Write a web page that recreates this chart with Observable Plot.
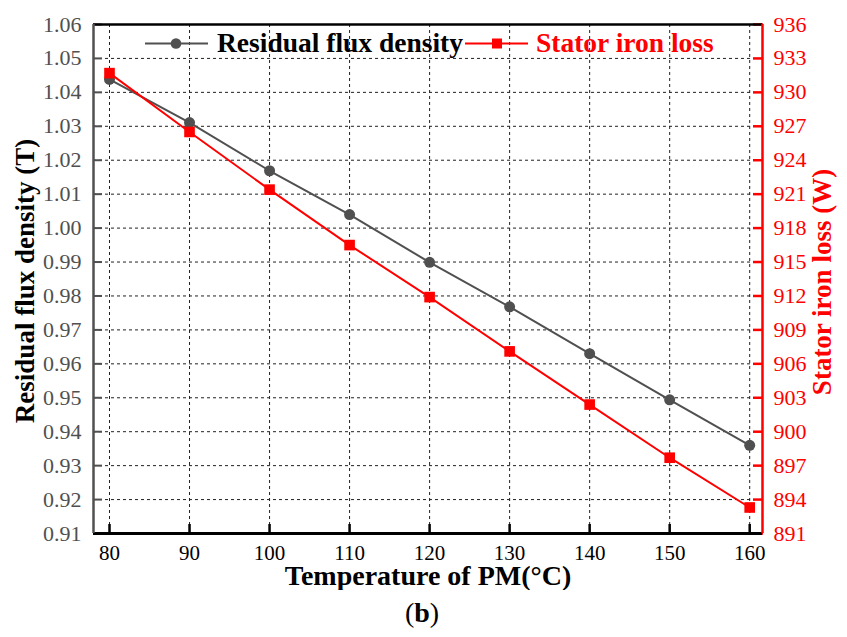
<!DOCTYPE html>
<html>
<head>
<meta charset="utf-8">
<script src="https://cdn.jsdelivr.net/npm/d3@7"></script>
<script src="https://cdn.jsdelivr.net/npm/@observablehq/plot@0.6"></script>
<style>
  html, body { margin: 0; padding: 0; background: #fff; }
  #wrap { position: relative; width: 847px; height: 637px; font-family: "Liberation Serif", "Times New Roman", serif; }
  #overlay { position: absolute; left: 0; top: 0; pointer-events: none; font-family: "Liberation Serif", "Times New Roman", serif; }
</style>
</head>
<body>
<div id="wrap">
  <div id="chart"></div>
  <svg id="overlay" width="847" height="637">
    <line x1="145" x2="208" y1="43.5" y2="43.5" stroke="#505050" stroke-width="2"></line>
    <circle cx="176" cy="43.5" r="5.3" fill="#505050"></circle>
    <text x="217" y="52" font-size="27.5" font-weight="bold" fill="#000">Residual flux density</text>
    <line x1="465" x2="528" y1="43.5" y2="43.5" stroke="#ff0000" stroke-width="2"></line>
    <rect x="492" y="38.5" width="10" height="10" fill="#ff0000"></rect>
    <text x="536" y="52" font-size="27.5" font-weight="bold" fill="#ff0000">Stator iron loss</text>
    <text x="422" y="622" font-size="28" text-anchor="middle" fill="#000">(<tspan font-weight="bold">b</tspan>)</text>
  </svg>
</div>
<script>
const temps = [80, 90, 100, 110, 120, 130, 140, 150, 160];
const flux = [1.0438, 1.0311, 1.0169, 1.0040, 0.9899, 0.9768, 0.9630, 0.9494, 0.9360];
const ironLoss = [931.7, 926.5, 921.4, 916.5, 911.9, 907.1, 902.4, 897.7, 893.3];
const fluxTicks = [0.91, 0.92, 0.93, 0.94, 0.95, 0.96, 0.97, 0.98, 0.99, 1.00, 1.01, 1.02, 1.03, 1.04, 1.05, 1.06];
const lossTicks = [891, 894, 897, 900, 903, 906, 909, 912, 915, 918, 921, 924, 927, 930, 933, 936];
const tempTicks = [80, 90, 100, 110, 120, 130, 140, 150, 160];

const xDomain = [78, 161.6];
const yDomain = [0.91, 1.06];
const lossDomain = [891, 936];
const toLeft = v => yDomain[0] + (v - lossDomain[0]) / (lossDomain[1] - lossDomain[0]) * (yDomain[1] - yDomain[0]);
const fromLeft = y => lossDomain[0] + (y - yDomain[0]) / (yDomain[1] - yDomain[0]) * (lossDomain[1] - lossDomain[0]);

const fluxData = temps.map((t, i) => ({t, v: flux[i]}));
const lossData = temps.map((t, i) => ({t, v: toLeft(ironLoss[i])}));
const rightTicks = lossTicks.map(toLeft);

const gray = "#505050";
const red = "#ff0000";
const serif = "'Liberation Serif', 'Times New Roman', serif";

const chart = Plot.plot({
  width: 847,
  height: 590,
  marginLeft: 93,
  marginRight: 85,
  marginTop: 24,
  marginBottom: 57,
  style: {background: "#fff", fontFamily: serif},
  x: {domain: xDomain},
  y: {domain: yDomain},
  marks: [
    Plot.gridX(tempTicks, {stroke: "#222", strokeOpacity: 1, strokeDasharray: "3,3", strokeWidth: 1}),
    Plot.gridY(fluxTicks, {stroke: "#222", strokeOpacity: 1, strokeDasharray: "3,3", strokeWidth: 1}),
    Plot.axisY(fluxTicks, {anchor: "left", tickSize: 0, tickPadding: 12, tickFormat: d3.format(".2f"), fontSize: 22, fill: gray, label: null}),
    Plot.axisY(fluxTicks, {anchor: "left", tickSize: 9, dx: 9, text: null, stroke: gray, strokeWidth: 2, label: null}),
    Plot.axisX(tempTicks, {anchor: "bottom", tickSize: 0, tickPadding: 12, fontSize: 21, fill: "#000", label: null}),
    Plot.axisX(tempTicks, {anchor: "bottom", tickSize: 9, dy: -9, text: null, stroke: "#000", strokeWidth: 2.5, label: null}),
    Plot.axisY(rightTicks, {anchor: "right", tickSize: 0, tickPadding: 11, tickFormat: d => String(Math.round(fromLeft(d))), fontSize: 22, fill: red, label: null}),
    Plot.axisY(rightTicks, {anchor: "right", tickSize: 10, dx: -10, text: null, stroke: red, strokeWidth: 2.5, label: null}),
    Plot.ruleY([yDomain[1]], {stroke: "#000", strokeWidth: 2.5}),
    Plot.ruleY([yDomain[0]], {stroke: "#000", strokeWidth: 3}),
    Plot.ruleX([xDomain[0]], {stroke: gray, strokeWidth: 2.5}),
    Plot.ruleX([xDomain[1]], {stroke: red, strokeWidth: 2.5}),
    Plot.line(fluxData, {x: "t", y: "v", stroke: gray, strokeWidth: 2}),
    Plot.dot(fluxData, {x: "t", y: "v", r: 5.5, fill: gray, stroke: "none"}),
    Plot.line(lossData, {x: "t", y: "v", stroke: red, strokeWidth: 2}),
    Plot.dot(lossData, {x: "t", y: "v", symbol: "square", r: 6, fill: red, stroke: "none"}),
    Plot.text(["Residual flux density (T)"], {frameAnchor: "left", text: d => d, rotate: -90, textAnchor: "middle", lineAnchor: "middle", dx: -68, dy: 2, fontSize: 27, fontWeight: "bold", fill: "#000"}),
    Plot.text(["Stator iron loss (W)"], {frameAnchor: "right", text: d => d, rotate: -90, textAnchor: "middle", lineAnchor: "middle", dx: 60, dy: 3, fontSize: 27, fontWeight: "bold", fill: red}),
    Plot.text(["Temperature of PM(°C)"], {frameAnchor: "bottom", text: d => d, textAnchor: "middle", lineAnchor: "middle", dy: 43, fontSize: 28, fontWeight: "bold", fill: "#000"})
  ]
});
document.getElementById("chart").appendChild(chart);
</script>
</body>
</html>
